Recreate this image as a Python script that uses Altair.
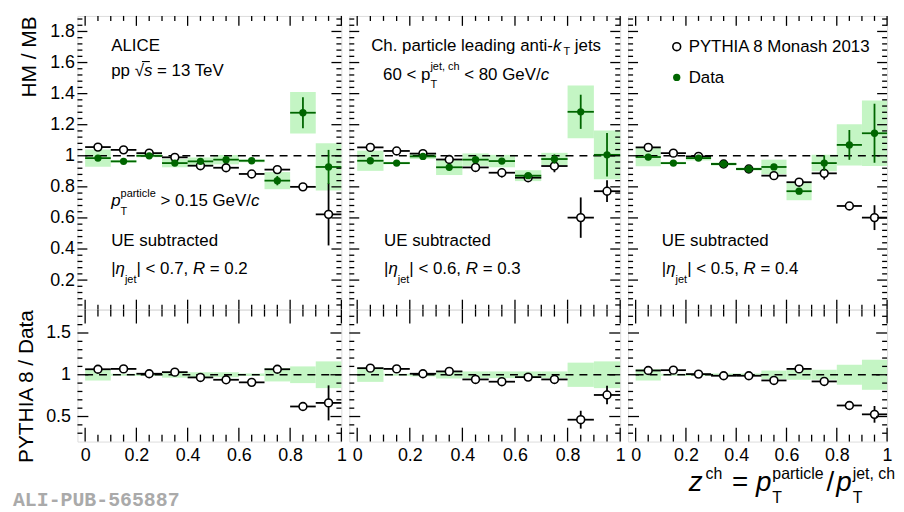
import altair as alt
import numpy as np
import pandas as pd

# ---------------- data ----------------
z_centers = [0.05, 0.15, 0.25, 0.35, 0.45, 0.55, 0.65, 0.75, 0.85, 0.95]
bin_half_width = 0.05

# R = 0.2
pythia_r02 = [1.056, 1.038, 1.017, 0.990, 0.936, 0.923, 0.883, 0.911, 0.800, 0.623]
pythia_r02_err = [0.006, 0.006, 0.006, 0.006, 0.008, 0.025, 0.010, 0.020, 0.020, 0.200]
data_r02 = [0.985, 0.964, 1.000, 0.953, 0.964, 0.975, 0.968, 0.840, 1.277, 0.928]
data_r02_err = [0.006, 0.006, 0.006, 0.006, 0.008, 0.012, 0.012, 0.030, 0.100, 0.110]
data_r02_sys = [0.055, 0.008, 0.010, 0.027, 0.025, 0.030, 0.010, 0.055, 0.133, 0.152]
ratio_r02 = [1.066, 1.070, 1.012, 1.031, 0.968, 0.940, 0.909, 1.066, 0.620, 0.663]
ratio_r02_err = [0.006, 0.006, 0.006, 0.006, 0.008, 0.012, 0.010, 0.030, 0.020, 0.210]
ratio_r02_sys = [0.070, 0.012, 0.015, 0.035, 0.030, 0.030, 0.015, 0.080, 0.100, 0.160]

# R = 0.3
pythia_r03 = [1.054, 1.031, 1.014, 0.976, 0.925, 0.891, 0.859, 0.934, 0.602, 0.772]
pythia_r03_err = [0.006, 0.006, 0.006, 0.006, 0.008, 0.030, 0.010, 0.040, 0.130, 0.070]
data_r03 = [0.968, 0.953, 0.996, 0.926, 0.975, 0.966, 0.872, 0.979, 1.283, 1.006]
data_r03_err = [0.006, 0.006, 0.006, 0.006, 0.008, 0.012, 0.012, 0.030, 0.110, 0.140]
data_r03_sys = [0.065, 0.008, 0.017, 0.050, 0.040, 0.040, 0.035, 0.040, 0.170, 0.157]
ratio_r03 = [1.079, 1.070, 1.012, 1.040, 0.944, 0.917, 0.972, 0.944, 0.462, 0.758]
ratio_r03_err = [0.006, 0.006, 0.006, 0.006, 0.008, 0.012, 0.010, 0.030, 0.107, 0.110]
ratio_r03_sys = [0.085, 0.012, 0.020, 0.045, 0.040, 0.040, 0.040, 0.040, 0.145, 0.160]

# R = 0.4
pythia_r04 = [1.054, 1.017, 0.996, 0.947, 0.915, 0.872, 0.830, 0.887, 0.677, 0.602]
pythia_r04_err = [0.006, 0.006, 0.006, 0.006, 0.008, 0.010, 0.012, 0.040, 0.020, 0.080]
data_r04 = [0.992, 0.953, 0.985, 0.947, 0.915, 0.928, 0.772, 0.953, 1.070, 1.145]
data_r04_err = [0.006, 0.006, 0.006, 0.006, 0.008, 0.012, 0.020, 0.050, 0.096, 0.190]
data_r04_sys = [0.060, 0.008, 0.015, 0.010, 0.010, 0.047, 0.058, 0.053, 0.133, 0.210]
ratio_r04 = [1.051, 1.055, 1.008, 0.988, 0.988, 0.932, 1.070, 0.920, 0.632, 0.526]
ratio_r04_err = [0.006, 0.006, 0.006, 0.006, 0.008, 0.012, 0.012, 0.040, 0.030, 0.100]
ratio_r04_sys = [0.070, 0.012, 0.015, 0.015, 0.015, 0.050, 0.060, 0.060, 0.120, 0.180]

x_tick_labels = [0, 0.2, 0.4, 0.6, 0.8, 1.0]
y_tick_labels_top = [0.2, 0.4, 0.6, 0.8, 1.0, 1.2, 1.4, 1.6, 1.8]
y_tick_labels_bottom = [0.5, 1.0, 1.5]

# ---------------- style / layout ----------------
FONT = "Liberation Sans"
GREEN = "#006600"
BAND = "#c4f5c4"
PANEL_W = [266, 273, 261]
ROW_H = [296, 133]
X_DOM = [-0.03, 1.0]
Y_DOM = [[0.01, 1.9], [0.2, 1.78]]
HSPACE = 8
ORIGIN = (77, 12)
OPEN_SIZE = 62
FILL_SIZE = 54

HW = {' ': 278, '!': 278, '(': 333, ')': 333, ',': 278, '-': 333, '.': 278, '/': 278,
      '<': 584, '=': 584, '>': 584, '|': 260, '√': 549, 'η': 556,
      'A': 667, 'B': 667, 'C': 722, 'D': 722, 'E': 667, 'F': 611, 'G': 778, 'H': 722,
      'I': 278, 'J': 500, 'K': 667, 'L': 556, 'M': 833, 'N': 722, 'O': 778, 'P': 667,
      'Q': 778, 'R': 722, 'S': 667, 'T': 611, 'U': 722, 'V': 667, 'W': 944, 'X': 667,
      'Y': 667, 'Z': 611,
      'a': 556, 'b': 556, 'c': 500, 'd': 556, 'e': 556, 'f': 278, 'g': 556, 'h': 556,
      'i': 222, 'j': 222, 'k': 500, 'l': 222, 'm': 833, 'n': 556, 'o': 556, 'p': 556,
      'q': 556, 'r': 333, 's': 500, 't': 278, 'u': 556, 'v': 500, 'w': 722, 'x': 500,
      'y': 500, 'z': 500}


def tw(s, size):
    return sum(HW.get(ch, 556) for ch in s) * size / 1000.0


def panel_origin(row, col):
    ox = ORIGIN[0] + sum(PANEL_W[:col]) + HSPACE * col
    oy = ORIGIN[1] + sum(ROW_H[:row])
    return ox, oy


def to_data(row, col, px, py):
    ox, oy = panel_origin(row, col)
    ppux = PANEL_W[col] / (X_DOM[1] - X_DOM[0])
    ppuy = ROW_H[row] / (Y_DOM[row][1] - Y_DOM[row][0])
    return X_DOM[0] + (px - ox) / ppux, Y_DOM[row][1] - (py - oy) / ppuy


def place(rows, text, style, size, x, y):
    lead = len(text) - len(text.lstrip(' '))
    x += tw(' ' * lead, size)
    body = text.strip(' ')
    if body:
        rows.append(dict(px=x, py=y, text=body, size=size, it=(style == 'i')))
    x += tw(body, size)
    trail = len(text) - len(text.rstrip(' '))
    if body:
        x += tw(' ' * trail, size)
    return x


def layout_line(segs, x0, y0):
    rows = []
    x = x0
    for seg in segs:
        if seg[0] == 'GAP':
            x += seg[1]
        elif seg[0] == 'STACK':
            _, sub, sup, size, dsub, dsup = seg
            x1 = place(rows, sub, 'n', size, x, y0 + dsub) if sub else x
            x2 = place(rows, sup, 'n', size, x, y0 + dsup) if sup else x
            x = max(x1, x2)
        else:
            text, style, size, dy = seg
            x = place(rows, text, style, size, x, y0 + dy)
    return rows, x


def line_width(segs):
    _, xe = layout_line(segs, 0, 0)
    return xe


def ue_lines(eta, r):
    return [
        [("UE subtracted", 'n', 17, 0)],
        [("|", 'n', 17, 0), ("η", 'i', 17, 0), ('STACK', "jet", "", 11, 9, 0),
         ("| < %s, " % eta, 'n', 17, 0), ("R", 'i', 17, 0), (" = %s" % r, 'n', 17, 0)],
    ]


ANNOT = {
    (0, 0): [
        ([("ALICE", 'n', 17, 0)], 111, 47),
        ([("pp ", 'n', 17, 0), ("√", 'n', 17, 0), ("s", 'i', 17, 0), (" = 13 TeV", 'n', 17, 0)], 111, 73),
        ([("p", 'i', 17, 0), ('STACK', "T", "particle", 11, 9, -9), (" > 0.15 GeV/", 'n', 17, 0),
          ("c", 'i', 17, 0)], 111, 204),
        (ue_lines("0.7", "0.2")[0], 111, 244),
        (ue_lines("0.7", "0.2")[1], 111, 272),
    ],
    (0, 1): [
        ([("Ch. particle leading anti-", 'n', 17, 0), ("k", 'i', 17, 0), ('GAP', 2),
          ("T", 'n', 11, 4), (" jets", 'n', 17, 0)], 373, 47),
        ([("60 < p", 'n', 17, 0), ('STACK', "T", "jet, ch", 11, 8, -11), (" < 80 GeV/", 'n', 17, 0),
          ("c", 'i', 17, 0)], 385, 77),
        (ue_lines("0.6", "0.3")[0], 386, 244),
        (ue_lines("0.6", "0.3")[1], 386, 272),
    ],
    (0, 2): [
        ([("PYTHIA 8 Monash 2013", 'n', 17, 0)], 693, 48),
        ([("Data", 'n', 17, 0)], 693, 80),
        (ue_lines("0.5", "0.4")[0], 666, 244),
        (ue_lines("0.5", "0.4")[1], 666, 272),
    ],
}

XTITLE = [("z", 'i', 28, 0), ('GAP', 3), ('STACK', "", "ch", 16, 0, -12), ('GAP', 2), (" = ", 'n', 28, 0),
          ("p", 'i', 28, 0), ('GAP', 1), ('STACK', "T", "particle", 16, 12, -12), ('GAP', 3),
          ("/", 'n', 28, 0), ('GAP', 2), ("p", 'i', 28, 0), ('GAP', 1),
          ('STACK', "T", "jet, ch", 16, 12, -12)]
ANNOT[(1, 2)] = [(XTITLE, 901 - line_width(XTITLE), 491)]

SERIES = [
    (pythia_r02, pythia_r02_err, data_r02, data_r02_err, data_r02_sys, ratio_r02, ratio_r02_err, ratio_r02_sys),
    (pythia_r03, pythia_r03_err, data_r03, data_r03_err, data_r03_sys, ratio_r03, ratio_r03_err, ratio_r03_sys),
    (pythia_r04, pythia_r04_err, data_r04, data_r04_err, data_r04_sys, ratio_r04, ratio_r04_err, ratio_r04_sys),
]


def bins_df(vals, errs, band_center, band_half):
    df = pd.DataFrame({'z': z_centers, 'v': vals, 'e': errs})
    df['x1'] = df['z'] - bin_half_width
    df['x2'] = df['z'] + bin_half_width
    df['ylo'] = df['v'] - df['e']
    df['yhi'] = df['v'] + df['e']
    c = np.asarray(band_center, dtype=float)
    h = np.asarray(band_half, dtype=float)
    df['slo'] = c - h
    df['shi'] = c + h
    return df


def tick_values(lo, hi, step):
    n = int(round((hi - lo) / step))
    return [round(lo + i * step, 4) for i in range(n + 1)]


def make_panel(row, col):
    W, H = PANEL_W[col], ROW_H[row]
    xs = alt.Scale(domain=X_DOM, nice=False, zero=False)
    ys = alt.Scale(domain=Y_DOM[row], nice=False, zero=False)
    py, pye, d, de, ds, r, re_, rs = SERIES[col]

    if row == 0:
        pyth = bins_df(py, pye, d, ds)
        dat = bins_df(d, de, d, ds)
    else:
        pyth = bins_df(r, re_, [1.0] * 10, rs)
        dat = None

    if row == 1:
        xaxis = alt.Axis(values=x_tick_labels, format='.1~f', labelFontSize=18, labelFont=FONT,
                         labelColor='black', ticks=False, domain=False, grid=False,
                         labelPadding=5, labelFlush=False, labelOverlap=False, title=None)
    else:
        xaxis = None
    if col == 0:
        if row == 0:
            yaxis = alt.Axis(values=y_tick_labels_top, format='.1~f', labelFontSize=18, labelFont=FONT,
                             labelColor='black', ticks=False, domain=False, grid=False, labelPadding=3,
                             labelFlush=False, labelOverlap=False, title="HM / MB", titleFont=FONT,
                             titleFontSize=21, titleFontWeight='normal', titleColor='black',
                             titleAnchor='end', titlePadding=10)
        else:
            yaxis = alt.Axis(values=y_tick_labels_bottom, format='.1~f', labelFontSize=18, labelFont=FONT,
                             labelColor='black', ticks=False, domain=False, grid=False, labelPadding=7,
                             labelFlush=False, labelOverlap=False, title="PYTHIA 8 / Data", titleFont=FONT,
                             titleFontSize=21, titleFontWeight='normal', titleColor='black',
                             titleAnchor='end', titlePadding=9)
    else:
        yaxis = None

    def X(field):
        return alt.X(field, scale=xs, axis=xaxis)

    def Y(field):
        return alt.Y(field, scale=ys, axis=yaxis)

    band_src = dat if row == 0 else pyth
    layers = []
    layers.append(alt.Chart(band_src).mark_rect(color=BAND, opacity=1).encode(
        x=X('x1:Q'), x2='x2:Q', y=Y('slo:Q'), y2='shi:Q'))
    dash = pd.DataFrame({'x1': [0.0], 'x2': [1.0], 'slo': [1.0]})
    layers.append(alt.Chart(dash).mark_rule(color='black', strokeDash=[8, 6], strokeWidth=1.5).encode(
        x=X('x1:Q'), x2='x2:Q', y=Y('slo:Q')))

    def errbars(df, color):
        h = alt.Chart(df).mark_rule(color=color, strokeWidth=1.8).encode(
            x=X('x1:Q'), x2='x2:Q', y=Y('v:Q'))
        v = alt.Chart(df).mark_rule(color=color, strokeWidth=1.8).encode(
            x=X('z:Q'), y=Y('ylo:Q'), y2='yhi:Q')
        return [h, v]

    layers += errbars(pyth, 'black')
    layers.append(alt.Chart(pyth).mark_circle(fill='white', stroke='black', strokeWidth=1.6, size=OPEN_SIZE,
                                              opacity=1).encode(x=X('z:Q'), y=Y('v:Q')))
    if dat is not None:
        layers += errbars(dat, GREEN)
        layers.append(alt.Chart(dat).mark_circle(color=GREEN, size=FILL_SIZE, opacity=1).encode(
            x=X('z:Q'), y=Y('v:Q')))

    # frame ticks (inward, on all four sides)
    xmaj = tick_values(0, 1.0, 0.2)
    xmin = [v for v in tick_values(0, 1.0, 0.05) if v not in xmaj]
    if row == 0:
        xL, xl, yL, yl = 10, 5, 10, 5
        ymaj = tick_values(0.2, 1.8, 0.2)
        ymin = [v for v in tick_values(0.04, 1.88, 0.04) if all(abs(v - m) > 1e-6 for m in ymaj)]
    else:
        xL, xl, yL, yl = 14, 7, 11, 5
        ymaj = [0.5, 1.0, 1.5]
        ymin = [v for v in tick_values(0.3, 1.7, 0.1) if all(abs(v - m) > 1e-6 for m in ymaj)]
    for vals, L in [(xmaj, xL), (xmin, xl)]:
        df = pd.DataFrame({'v': vals})
        for y0, y1 in [(0, L), (H, H - L)]:
            layers.append(alt.Chart(df).mark_rule(color='black', strokeWidth=1.3).encode(
                x=X('v:Q'), y=alt.value(y0), y2=alt.value(y1)))
    for vals, L in [(ymaj, yL), (ymin, yl)]:
        df = pd.DataFrame({'v': vals})
        for x0, x1 in [(0, L), (W, W - L)]:
            layers.append(alt.Chart(df).mark_rule(color='black', strokeWidth=1.3).encode(
                y=Y('v:Q'), x=alt.value(x0), x2=alt.value(x1)))

    # annotations
    rows = []
    for segs, x0, y0 in ANNOT.get((row, col), []):
        rr, _ = layout_line(segs, x0, y0)
        rows += rr
    if rows:
        tdf = pd.DataFrame(rows)
        xy = [to_data(row, col, a, b) for a, b in zip(tdf['px'], tdf['py'])]
        tdf['xd'] = [p[0] for p in xy]
        tdf['yd'] = [p[1] for p in xy]
        for it in [False, True]:
            sub = tdf[tdf['it'] == it]
            if len(sub) == 0:
                continue
            layers.append(alt.Chart(sub).mark_text(
                align='left', baseline='alphabetic', font=FONT, color='black',
                fontStyle='italic' if it else 'normal').encode(
                x=X('xd:Q'), y=Y('yd:Q'),
                text='text:N', size=alt.Size('size:Q', scale=None, legend=None)))

    if (row, col) == (0, 0):
        # overline of the square root over "s"
        sx1, sy = to_data(0, 0, 142, 58)
        sx2, _ = to_data(0, 0, 150, 58)
        bar = pd.DataFrame({'x1': [sx1], 'x2': [sx2], 'slo': [sy]})
        layers.append(alt.Chart(bar).mark_rule(color='black', strokeWidth=1.1).encode(
            x=X('x1:Q'), x2='x2:Q', y=Y('slo:Q')))

    if (row, col) == (0, 2):
        lx, ly1 = to_data(0, 2, 681, 43)
        _, ly2 = to_data(0, 2, 681, 74)
        leg_open = pd.DataFrame({'x': [lx], 'y': [ly1]})
        leg_fill = pd.DataFrame({'x': [lx], 'y': [ly2]})
        layers.append(alt.Chart(leg_open).mark_circle(fill='white', stroke='black', strokeWidth=1.6,
                                                      size=OPEN_SIZE, opacity=1).encode(x=X('x:Q'), y=Y('y:Q')))
        layers.append(alt.Chart(leg_fill).mark_circle(color=GREEN, size=FILL_SIZE, opacity=1).encode(
            x=X('x:Q'), y=Y('y:Q')))

    if (row, col) == (1, 0):
        ax, ay = to_data(1, 0, 12, 506)
        pub = pd.DataFrame({'x': [ax], 'y': [ay], 't': ["ALI-PUB-565887"]})
        layers.append(alt.Chart(pub).mark_text(
            align='left', baseline='alphabetic', font='Liberation Mono', fontWeight='bold',
            fontSize=20, color='#aaaaaa').encode(x=X('x:Q'), y=Y('y:Q'), text='t:N'))

    return alt.layer(*layers).properties(width=W, height=H)


panels = [make_panel(r, c) for r in range(2) for c in range(3)]

chart = alt.concat(*panels, columns=3, spacing={'row': 0, 'column': HSPACE}, bounds='flush').properties(
    padding={'left': 4, 'top': 4, 'right': 0, 'bottom': 0}
).configure_view(stroke='black', strokeWidth=1.5).configure(background='white')

chart.save("out.html", embed_options={"renderer": "svg", "actions": False})
